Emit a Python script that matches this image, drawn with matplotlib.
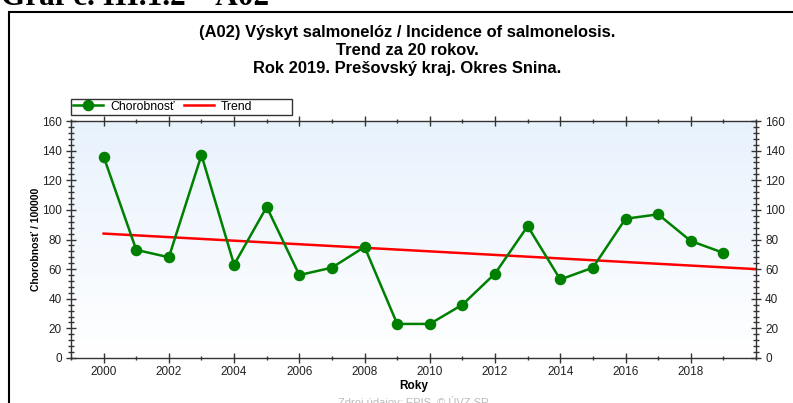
import numpy as np
import matplotlib
matplotlib.use("Agg")
import matplotlib.pyplot as plt
from matplotlib.patches import Rectangle
from matplotlib.ticker import MultipleLocator
from matplotlib.colors import LinearSegmentedColormap

years = [2000, 2001, 2002, 2003, 2004, 2005, 2006, 2007, 2008, 2009,
         2010, 2011, 2012, 2013, 2014, 2015, 2016, 2017, 2018, 2019]
incidence = [136, 73, 68, 137, 63, 102, 56, 61, 75, 23,
             23, 36, 57, 89, 53, 61, 94, 97, 79, 71]
trend_x = [2000, 2020]
trend_y = [84, 60]

title_lines = ["(A02) Výskyt salmonelóz / Incidence of salmonelosis.",
               "Trend za 20 rokov.",
               "Rok 2019. Prešovský kraj. Okres Snina."]
header = "Graf č. III.1.2 – A02"
source = "Zdroj údajov: EPIS, © ÚVZ SR"

W, H = 793, 403
fig = plt.figure(figsize=(W / 100, H / 100), dpi=100)
plt.rcParams['font.family'] = ['Liberation Sans', 'DejaVu Sans']

def fx(px):
    return px / W

def fy(py):
    return 1 - py / H

# outer frame
fig.patches.append(Rectangle((fx(9), fy(420)), fx(800), fy(12) - fy(420),
                             transform=fig.transFigure, fill=False,
                             edgecolor='black', linewidth=1.5))

fig.text(fx(1), fy(5), header, family=['Liberation Serif', 'DejaVu Serif'],
         fontweight='bold', fontsize=22.5, va='baseline', ha='left')

for i, line in enumerate(title_lines):
    fig.text(fx(407), fy(32 + i * 18.5), line, ha='center', va='center',
             fontsize=11.9, fontweight='bold')

ax = fig.add_axes([fx(71), fy(358), fx(756) - fx(71), fy(121) - fy(358)])

# gradient background
grad = np.linspace(0, 1, 256).reshape(-1, 1)
cmap = LinearSegmentedColormap.from_list('bg', ['#ffffff', '#e8f2fd'])
ax.imshow(grad, aspect='auto', cmap=cmap, origin='lower',
          extent=[1999, 2020, 0, 160], zorder=0)

ax.plot(trend_x, trend_y, color='#ff0000', linewidth=1.8, label='Trend', zorder=2)
ax.plot(years, incidence, color='#008000', linewidth=1.8, marker='o',
        markersize=7.3, label='Chorobnosť', zorder=3)

ax.set_xlim(1999, 2020)
ax.set_ylim(0, 160)

ax.xaxis.set_minor_locator(MultipleLocator(1))
ax.yaxis.set_major_locator(MultipleLocator(20))
ax.yaxis.set_minor_locator(MultipleLocator(4))
ax.set_xticks([2000 + 2 * i for i in range(10)])

ax.tick_params(axis='x', which='major', direction='inout', length=7, width=1,
               top=True, labelsize=8.5, labelcolor='#222222', pad=2)
ax.tick_params(axis='x', which='minor', direction='inout', length=3.5, width=1,
               top=True)
ax.tick_params(axis='y', which='major', direction='inout', length=7, width=1,
               right=True, labelright=True, labelsize=8.5, labelcolor='#222222', pad=3)
ax.tick_params(axis='y', which='minor', direction='inout', length=4, width=1,
               right=True)

for s in ax.spines.values():
    s.set_color('#333333')
    s.set_linewidth(1)
ax.tick_params(which='both', color='#333333')

ax.set_xlabel('Roky', fontsize=8.5, fontweight='bold', labelpad=2)
ax.set_ylabel('Chorobnosť / 100000', fontsize=7.5, fontweight='bold', labelpad=1)

handles, labels = ax.get_legend_handles_labels()
leg = ax.legend(handles[::-1], labels[::-1], ncol=2,
                loc='lower left', bbox_to_anchor=(fx(71), fy(115)),
                bbox_transform=fig.transFigure, fontsize=8.8,
                frameon=False, borderpad=0.2, handlelength=2.4,
                handletextpad=0.6, columnspacing=0.8, borderaxespad=0)
fig.patches.append(Rectangle((fx(71), fy(115)), fx(292) - fx(71), fy(99) - fy(115),
                             transform=fig.transFigure, fill=False,
                             edgecolor='#333333', linewidth=1))

fig.text(fx(413), fy(406), source, ha='center', va='baseline', fontsize=8,
         color='#bbbbbb')

fig.savefig('out.png', dpi=100)
